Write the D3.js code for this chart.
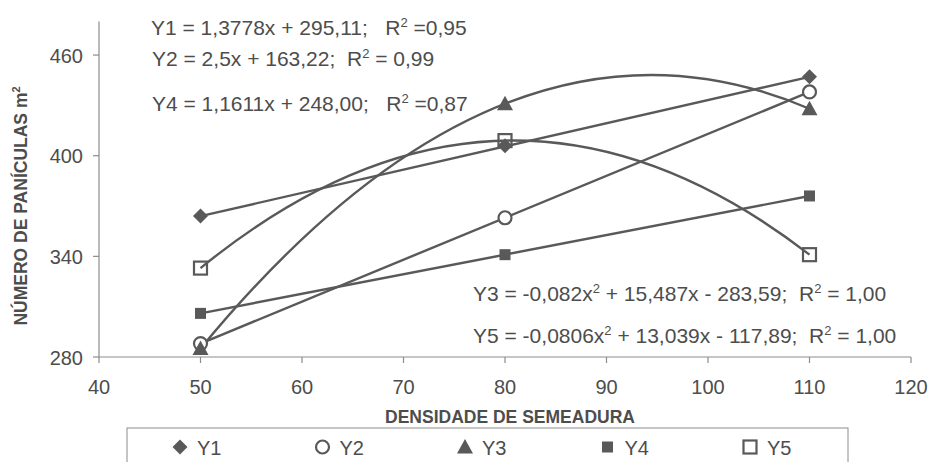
<!DOCTYPE html>
<html>
<head>
<meta charset="utf-8">
<script src="https://cdn.jsdelivr.net/npm/d3@7"></script>
<style>
  body { margin: 0; background: #fff; }
  text { font-family: "Liberation Sans", Arial, sans-serif; fill: #4d4d4d; white-space: pre; }
</style>
</head>
<body>
<script>
const width = 930;
const height = 462;

// data
const densities = [50, 80, 110];
const seriesNames = ["Y1", "Y2", "Y3", "Y4", "Y5"];
const y1 = [364, 406, 447];
const y2 = [288, 363, 438];
const y3 = [285, 431, 428];
const y4 = [306, 341, 376];
const y5 = [333, 409, 341];
const xTicks = [40, 50, 60, 70, 80, 90, 100, 110, 120];
const yTicks = [280, 340, 400, 460];
const equations = [
  {label: "Y1 = 1,3778x + 295,11;   R", tail: " =0,95"},
  {label: "Y2 = 2,5x + 163,22;  R", tail: " = 0,99"},
  {label: "Y4 = 1,1611x + 248,00;   R", tail: " =0,87"},
  {label: "Y3 = -0,082x", mid: " + 15,487x - 283,59;  R", tail: " = 1,00"},
  {label: "Y5 = -0,0806x", mid: " + 13,039x - 117,89;  R", tail: " = 1,00"}
];

const series = [
  {name: "Y1", values: y1, shape: "diamond", fit: "linear"},
  {name: "Y2", values: y2, shape: "circle", fit: "linear"},
  {name: "Y3", values: y3, shape: "triangle", fit: "quad"},
  {name: "Y4", values: y4, shape: "square", fit: "linear"},
  {name: "Y5", values: y5, shape: "opensquare", fit: "quad"}
];

const ink = "#595959";
const axisGray = "#8c8c8c";

const svg = d3.select("body").append("svg")
  .attr("width", width)
  .attr("height", height);

const x = d3.scaleLinear().domain([40, 120]).range([99, 911]);
const y = d3.scaleLinear().domain([280, 480]).range([357, 21.5]);

// axes
svg.append("line")
  .attr("x1", x(40)).attr("x2", x(120))
  .attr("y1", y(280)).attr("y2", y(280))
  .attr("stroke", axisGray).attr("stroke-width", 1.2);
svg.append("line")
  .attr("x1", x(40)).attr("x2", x(40))
  .attr("y1", y(280)).attr("y2", y(480))
  .attr("stroke", axisGray).attr("stroke-width", 1.2);

svg.selectAll("line.xtick")
  .data(xTicks)
  .enter().append("line")
  .attr("class", "xtick")
  .attr("x1", d => x(d)).attr("x2", d => x(d))
  .attr("y1", y(280)).attr("y2", y(280) + 6)
  .attr("stroke", axisGray).attr("stroke-width", 1.2);

svg.selectAll("text.xlab")
  .data(xTicks)
  .enter().append("text")
  .attr("class", "xlab")
  .attr("x", d => x(d))
  .attr("y", 394)
  .attr("text-anchor", "middle")
  .attr("font-size", 20)
  .text(d => d);

svg.selectAll("line.ytick")
  .data(yTicks)
  .enter().append("line")
  .attr("class", "ytick")
  .attr("x1", x(40) - 6).attr("x2", x(40))
  .attr("y1", d => y(d)).attr("y2", d => y(d))
  .attr("stroke", axisGray).attr("stroke-width", 1.2);

svg.selectAll("text.ylab")
  .data(yTicks)
  .enter().append("text")
  .attr("class", "ylab")
  .attr("x", 83)
  .attr("y", d => y(d) + 7.5)
  .attr("text-anchor", "end")
  .attr("font-size", 20)
  .text(d => d);

// axis titles
svg.append("text")
  .attr("x", 510).attr("y", 423)
  .attr("text-anchor", "middle")
  .attr("font-size", 17.5)
  .attr("font-weight", "bold")
  .text("DENSIDADE DE SEMEADURA");

const yt = svg.append("text")
  .attr("transform", "translate(27,206) rotate(-90)")
  .attr("text-anchor", "middle")
  .attr("font-size", 17.5)
  .attr("font-weight", "bold");
yt.append("tspan").text("NÚMERO DE PANÍCULAS m");
yt.append("tspan").attr("dy", -7).attr("font-size", 11).text("2");

// lines
const g = svg.append("g");
series.forEach(s => {
  const p0 = [x(densities[0]), y(s.values[0])];
  const p1 = [x(densities[1]), y(s.values[1])];
  const p2 = [x(densities[2]), y(s.values[2])];
  const path = d3.path();
  path.moveTo(p0[0], p0[1]);
  if (s.fit === "quad") {
    // parabola through the three points (middle x is halfway)
    const cx = 2 * p1[0] - 0.5 * (p0[0] + p2[0]);
    const cy = 2 * p1[1] - 0.5 * (p0[1] + p2[1]);
    path.quadraticCurveTo(cx, cy, p2[0], p2[1]);
  } else {
    path.lineTo(p2[0], p2[1]);
  }
  g.append("path")
    .attr("d", path.toString())
    .attr("fill", "none")
    .attr("stroke", ink)
    .attr("stroke-width", 2.4);
});

function drawMarker(sel, shape, cx, cy) {
  if (shape === "diamond") {
    sel.append("path")
      .attr("d", `M${cx},${cy - 7.5}L${cx + 7.5},${cy}L${cx},${cy + 7.5}L${cx - 7.5},${cy}Z`)
      .attr("fill", ink);
  } else if (shape === "circle") {
    sel.append("circle")
      .attr("cx", cx).attr("cy", cy).attr("r", 6.5)
      .attr("fill", "#fff").attr("stroke", ink).attr("stroke-width", 2.2);
  } else if (shape === "triangle") {
    sel.append("path")
      .attr("d", `M${cx},${cy - 8}L${cx + 8},${cy + 6.5}L${cx - 8},${cy + 6.5}Z`)
      .attr("fill", ink);
  } else if (shape === "square") {
    sel.append("rect")
      .attr("x", cx - 5.5).attr("y", cy - 5.5).attr("width", 11).attr("height", 11)
      .attr("fill", ink);
  } else if (shape === "opensquare") {
    sel.append("rect")
      .attr("x", cx - 6.5).attr("y", cy - 6.5).attr("width", 13).attr("height", 13)
      .attr("fill", "none").attr("stroke", ink).attr("stroke-width", 2.2);
  }
}

// markers
series.forEach(s => {
  s.values.forEach((v, i) => drawMarker(g, s.shape, x(densities[i]), y(v)));
});

// equations
const eqPos = [[151, 35], [152, 66], [152, 111], [473, 301], [473, 343]];
equations.forEach((e, i) => {
  const t = svg.append("text")
    .attr("x", eqPos[i][0]).attr("y", eqPos[i][1])
    .attr("font-size", 21);
  t.append("tspan").text(e.label);
  t.append("tspan").attr("dy", -8).attr("font-size", 13).text("2");
  if (e.mid) {
    t.append("tspan").attr("dy", 8).text(e.mid);
    t.append("tspan").attr("dy", -8).attr("font-size", 13).text("2");
  }
  t.append("tspan").attr("dy", 8).text(e.tail);
});

// legend
svg.append("rect")
  .attr("x", 127).attr("y", 428)
  .attr("width", 721).attr("height", 40)
  .attr("fill", "#fff").attr("stroke", axisGray).attr("stroke-width", 1);

const legendX = d3.scalePoint().domain(seriesNames).range([180, 750]);
series.forEach(s => {
  const lx = legendX(s.name);
  drawMarker(svg, s.shape, lx, 447);
  svg.append("text")
    .attr("x", lx + 17).attr("y", 455)
    .attr("font-size", 20)
    .text(s.name);
});
</script>
</body>
</html>
